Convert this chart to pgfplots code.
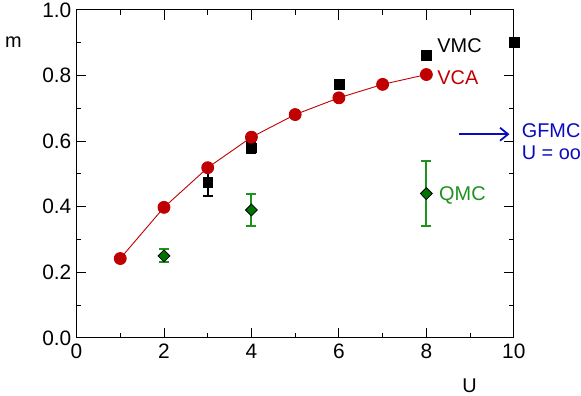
\documentclass[border=0pt]{standalone}
\usepackage{pgfplots}
\pgfplotsset{compat=1.18}
\usetikzlibrary{arrows.meta}
\usepackage{fontspec}
\setmainfont{Liberation Sans}
\definecolor{vcared}{RGB}{192,0,0}
\definecolor{qmcgreen}{RGB}{30,145,30}
\definecolor{qmcfill}{RGB}{0,115,0}
\definecolor{gfblue}{RGB}{10,10,190}
\begin{document}
\begin{tikzpicture}
\begin{axis}[
  scale only axis,
  width=440pt, height=330pt,
  xmin=0, xmax=10, ymin=0, ymax=1,
  xtick={0,2,4,6,8,10},
  ytick={0,0.2,0.4,0.6,0.8,1.0},
  minor x tick num=1, minor y tick num=1,
  tick align=inside,
  major tick length=10pt, minor tick length=5pt,
  every tick/.style={black, line width=0.9pt},
  axis line style={line width=1pt},
  /pgf/number format/assume math mode=true,
  y tick label style={/pgf/number format/fixed, /pgf/number format/fixed zerofill, /pgf/number format/precision=1},
  tick label style={font=\fontsize{21}{24}\selectfont, inner sep=0pt},
  yticklabel style={xshift=-5pt},
  xticklabel style={yshift=-6pt},
  clip=false,
]
% VMC
\addplot[only marks, mark=square*, mark size=5pt, black,
  error bars/.cd, y dir=both, y explicit,
  error bar style={line width=2pt, black}, error mark options={rotate=90, mark size=5pt, line width=2pt}]
  coordinates {(3,0.475) +- (0,0.043) (4,0.58) +- (0,0.017) (6,0.773) +- (0,0) (8,0.862) +- (0,0) (10,0.901) +- (0,0)};
% VCA
\addplot[vcared, line width=0.9pt, mark=*, mark size=6pt, mark options={fill=vcared, draw=vcared}]
  coordinates {(1,0.242) (2,0.398) (3,0.519) (4,0.612) (5,0.681) (6,0.732) (7,0.773) (8,0.803)};
% QMC
\addplot[only marks, qmcgreen, mark=diamond*, mark size=6pt, mark options={xscale=1.33, fill=qmcfill, draw=black, line width=0.8pt},
  error bars/.cd, y dir=both, y explicit,
  error bar style={line width=2pt, qmcgreen}, error mark options={rotate=90, mark size=5pt, line width=2pt, qmcgreen}]
  coordinates {(2,0.25) +- (0,0.02) (4,0.39) +- (0,0.05) (8,0.44) +- (0,0.10)};
% annotations
\draw[gfblue, line width=1.8pt, -{Straight Barb[length=8pt, width=13pt]}] (axis cs:8.74,0.621) -- (axis cs:9.90,0.621);
\node[anchor=base west, inner sep=0pt, font=\fontsize{20}{24}\selectfont, black] at (axis cs:8.25,0.870) {VMC};
\node[anchor=base west, inner sep=0pt, font=\fontsize{20}{24}\selectfont, vcared] at (axis cs:8.25,0.773) {VCA};
\node[anchor=base west, inner sep=0pt, font=\fontsize{20}{24}\selectfont, qmcgreen] at (axis cs:8.29,0.419) {QMC};
\node[anchor=base west, inner sep=0pt, font=\fontsize{20}{24}\selectfont, gfblue] at (axis cs:10.18,0.612) {GFMC};
\node[anchor=base west, inner sep=0pt, font=\fontsize{20}{24}\selectfont, gfblue] at (axis cs:10.18,0.545) {U = oo};
\node[anchor=base west, inner sep=0pt, font=\fontsize{20}{24}\selectfont] at (axis cs:-1.64,0.885) {m};
\node[anchor=base west, inner sep=0pt, font=\fontsize{20}{24}\selectfont] at (axis cs:8.82,-0.167) {U};
\path (rel axis cs:0,0) ++(-77pt,-58pt) rectangle ++(581pt,398pt);
\end{axis}
\end{tikzpicture}
\end{document}
